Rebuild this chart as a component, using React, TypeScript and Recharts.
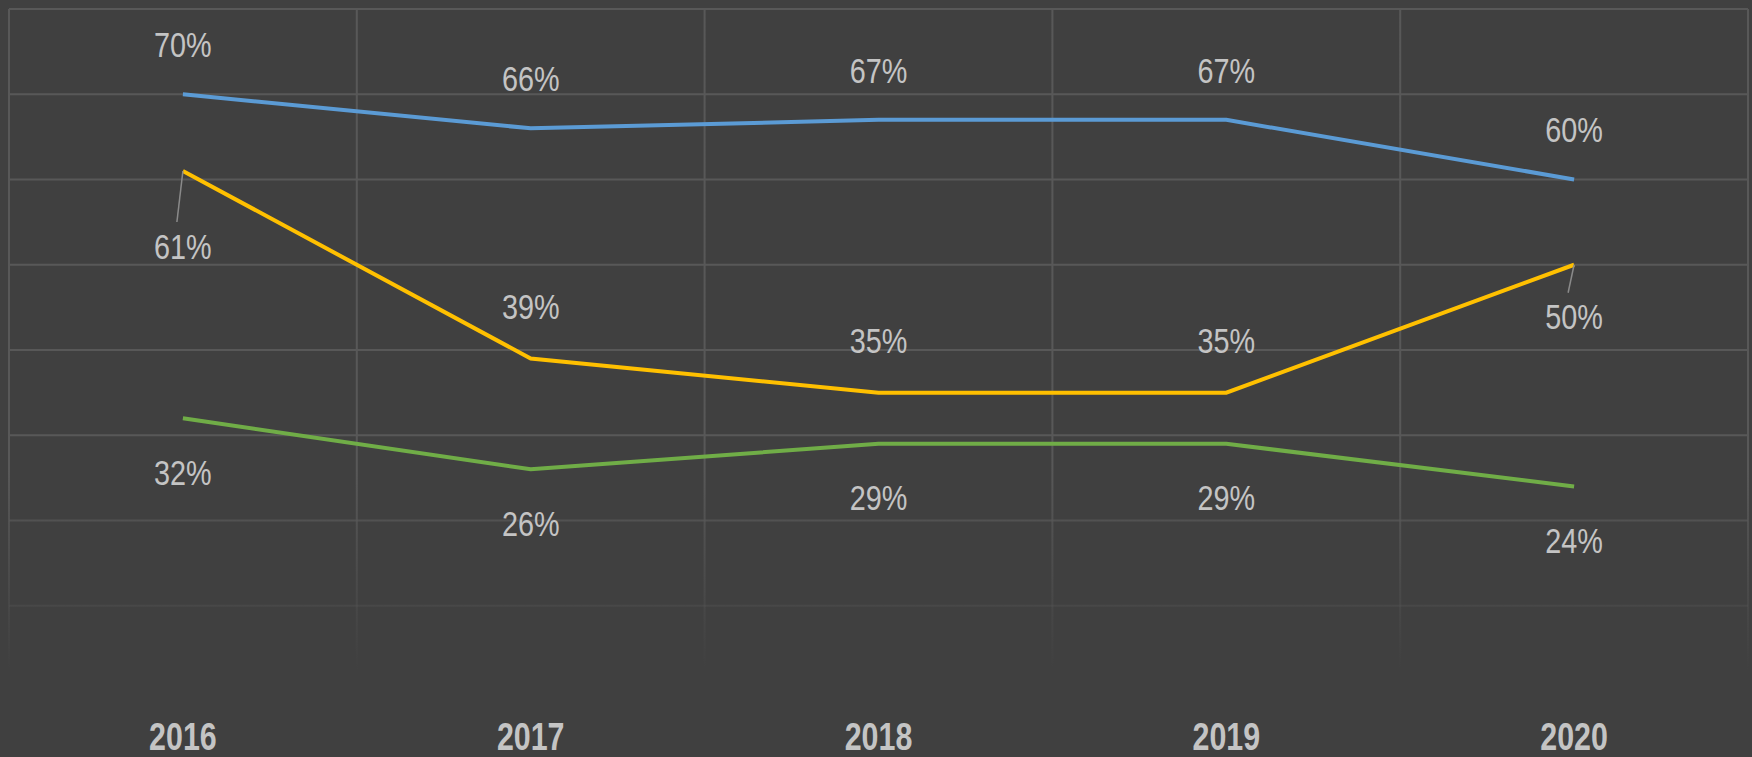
import { LineChart, Line, XAxis, YAxis, CartesianGrid, LabelList } from 'recharts'

const years = ['2016', '2017', '2018', '2019', '2020']
const blueValues = [70, 66, 67, 67, 60]
const yellowValues = [61, 39, 35, 35, 50]
const greenValues = [32, 26, 29, 29, 24]
const yTicks = [0, 10, 20, 30, 40, 50, 60, 70, 80]

// label placement (px offset from the point), kept apart from the values
const blueLabelDy = [-50, -50, -50, -50, -50]
const yellowLabelDy = [75, -52, -52, -52, 52]
const yellowLeader = [true, false, false, false, true]
const greenLabelDy = [54, 54, 54, 54, 54]

const BG = '#404040'
const GRID = '#585858'
const TEXT = '#c4c4c4'
const FONT = "'Liberation Sans', Arial, sans-serif"
const SQUEEZE = 0.8

const W = 1752
const H = 757
const MARGIN = { top: 9, right: 4, left: 9, bottom: 0 }
const HALF_BAND = (W - MARGIN.left - MARGIN.right) / years.length / 2

const data = years.map((year, i) => ({
  year,
  blue: blueValues[i],
  yellow: yellowValues[i],
  green: greenValues[i],
}))

function makeLabel(dys: number[], leaders?: boolean[]) {
  return (props: any) => {
    const { x, y, value, index } = props
    const dy = dys[index] ?? 0
    const ly = y + dy
    return (
      <g>
        {leaders && leaders[index] ? (
          <line x1={x} y1={y} x2={x - 6} y2={dy > 0 ? ly - 24 : ly + 24} stroke="#8a8a8a" strokeWidth={1.5} />
        ) : null}
        <text
          transform={`translate(${x} ${ly}) scale(${SQUEEZE} 1)`}
          textAnchor="middle"
          dominantBaseline="central"
          fill={TEXT}
          fontSize={36}
          fontFamily={FONT}
        >
          {value}%
        </text>
      </g>
    )
  }
}

function YearTick(props: any) {
  const { x, y, payload } = props
  return (
    <text
      transform={`translate(${x} ${y + 57}) scale(${SQUEEZE} 1)`}
      textAnchor="middle"
      fill={TEXT}
      fontSize={38}
      fontWeight="bold"
      fontFamily={FONT}
    >
      {payload.value}
    </text>
  )
}

export default function App() {
  const bandLines = ({ offset }: any) =>
    Array.from({ length: years.length + 1 }, (_, i) => offset.left + (i * offset.width) / years.length)

  return (
    <div style={{ position: 'absolute', left: 0, top: 0, width: W, height: H, background: BG }}>
      <LineChart width={W} height={H} data={data} margin={MARGIN}>
        <defs>
          <linearGradient id="gridFade" gradientUnits="userSpaceOnUse" x1="0" y1="470" x2="0" y2="670">
            <stop offset="0%" stopColor={GRID} stopOpacity={1} />
            <stop offset="100%" stopColor={GRID} stopOpacity={0} />
          </linearGradient>
        </defs>
        <CartesianGrid stroke="url(#gridFade)" strokeWidth={2} verticalCoordinatesGenerator={bandLines} />
        <XAxis
          dataKey="year"
          axisLine={false}
          tickLine={false}
          tickSize={0}
          height={66}
          tick={<YearTick />}
          interval={0}
          padding={{ left: HALF_BAND, right: HALF_BAND }}
        />
        <YAxis hide domain={[0, 80]} ticks={yTicks} />
        <Line dataKey="blue" stroke="#5b9bd5" strokeWidth={4} dot={false} isAnimationActive={false}>
          <LabelList dataKey="blue" content={makeLabel(blueLabelDy)} />
        </Line>
        <Line dataKey="yellow" stroke="#ffc000" strokeWidth={4} dot={false} isAnimationActive={false}>
          <LabelList dataKey="yellow" content={makeLabel(yellowLabelDy, yellowLeader)} />
        </Line>
        <Line dataKey="green" stroke="#70ad47" strokeWidth={4} dot={false} isAnimationActive={false}>
          <LabelList dataKey="green" content={makeLabel(greenLabelDy)} />
        </Line>
      </LineChart>
    </div>
  )
}
